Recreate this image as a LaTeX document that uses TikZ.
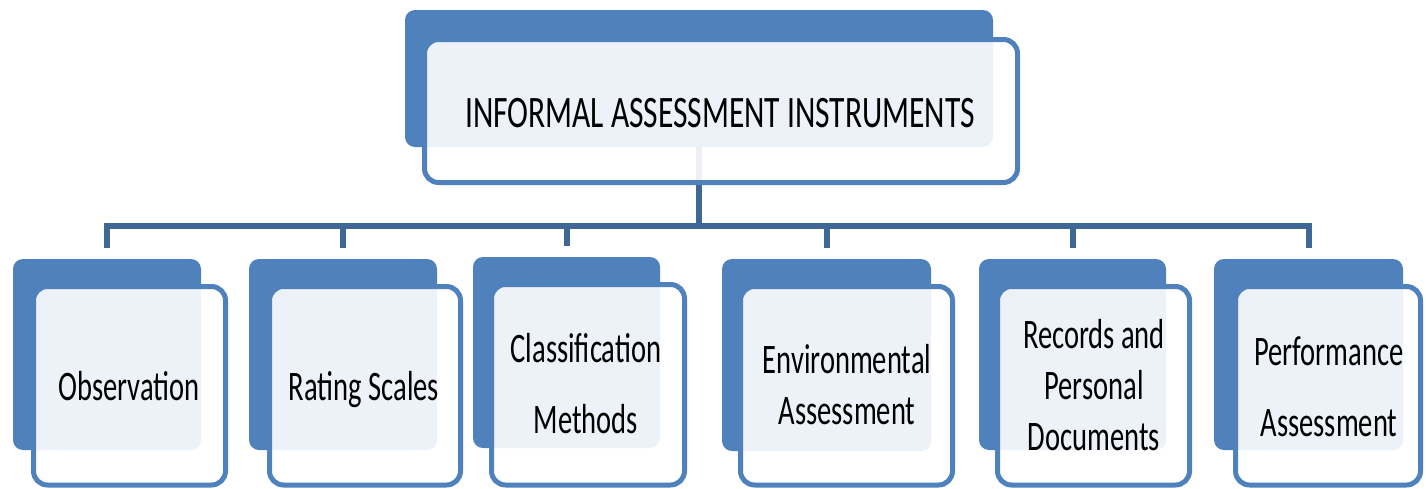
\documentclass[tikz,border=0pt]{standalone}
\usepackage{fontspec}
\setmainfont{Carlito}
\usetikzlibrary{calc}
\definecolor{boxblue}{HTML}{4F81BD}
\definecolor{linkblue}{HTML}{3F6896}
\newcommand\boxtext[2]{\scalebox{#1}[1]{\begin{tabular}[t]{@{}c@{}}#2\end{tabular}}}
\newcommand\placebox[6]{\node[#6, minimum width={(#4-#2)*1pt}, minimum height={(#5-#3)*1pt}] (#1) at ({(#2+#4)/2},{(#3+#5)/2}) {};}
\begin{document}
\begin{tikzpicture}[x=1pt,y=-1pt,
  backbox/.style={rectangle, rounded corners=10pt, fill=boxblue, inner sep=0pt, outer sep=0pt},
  frontbox/.style={rectangle, rounded corners=14pt, draw=boxblue, line width=5pt, fill=white, fill opacity=0.9, inner sep=0pt, outer sep=0pt},
  conn/.style={draw=linkblue, line width=6pt},
  lbl/.style={anchor=base, inner sep=0pt, outer sep=0pt, font=\fontsize{42}{51}\selectfont},
  title/.style={anchor=base, inner sep=0pt, outer sep=0pt, font=\fontsize{45}{54}\selectfont},
]
\useasboundingbox (0,0) rectangle (1426,488);
% back boxes
\placebox{topback}{405}{10}{993}{147}{backbox}
\placebox{b1back}{13}{259}{201}{450}{backbox}
\placebox{b2back}{249}{259}{437}{450}{backbox}
\placebox{b3back}{473}{257}{660}{448}{backbox}
\placebox{b4back}{722}{259}{931}{451}{backbox}
\placebox{b5back}{979}{259}{1166}{450}{backbox}
\placebox{b6back}{1214}{259}{1403}{450}{backbox}
% connectors
\coordinate (hub) at (699,226);
\draw[conn] (topback) -- (hub);
\foreach \b in {b1back,b2back,b3back,b4back,b5back,b6back}
  \draw[conn, shorten >=11pt] (hub) -| (\b.north);
% front boxes
\placebox{top}{424.5}{39.5}{1017.5}{182.5}{frontbox}
\placebox{b1}{33.5}{286.5}{225.5}{485}{frontbox}
\placebox{b2}{269.5}{286.5}{460.5}{485}{frontbox}
\placebox{b3}{491.5}{284.5}{684.5}{485}{frontbox}
\placebox{b4}{740.5}{286.5}{952.5}{485}{frontbox}
\placebox{b5}{997.5}{286.5}{1189.5}{485}{frontbox}
\placebox{b6}{1235.5}{286.5}{1420.5}{485}{frontbox}
% texts
\node[title] (t0) at (720,127) {\boxtext{0.7}{INFORMAL ASSESSMENT INSTRUMENTS}};
\node[lbl] (t1) at (129,400) {\boxtext{0.68}{Observation}};
\node[lbl] (t2) at (364,400) {\boxtext{0.68}{Rating Scales}};
\node[lbl] (t3) at (586,362) {\boxtext{0.68}{Classification\\[20pt] Methods}};
\node[lbl] (t4) at (847,373) {\boxtext{0.68}{Environmental\\Assessment}};
\node[lbl] (t5) at (1094,348) {\boxtext{0.68}{Records and\\Personal\\Documents}};
\node[lbl] (t6) at (1329,365) {\boxtext{0.68}{Performance\\[20pt] Assessment}};
\end{tikzpicture}
\end{document}
